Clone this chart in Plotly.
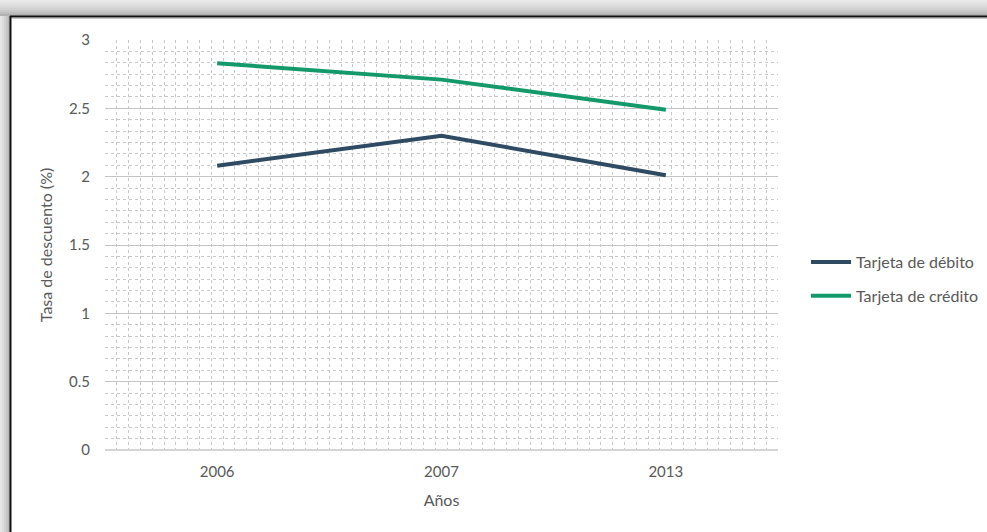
import plotly.graph_objects as go

years = ["2006", "2007", "2013"]
debito = [2.08, 2.30, 2.01]
credito = [2.83, 2.71, 2.49]
y_ticks = [0, 0.5, 1, 1.5, 2, 2.5, 3]
y_ticktext = ["0", "0.5", "1", "1.5", "2", "2.5", "3"]

W, H = 987, 532
L, R, T, B = 105, 209, 40, 82
PW, PH = W - L - R, H - T - B

def px2paper_x(px):
    return (px - L) / PW

def px2paper_y(py):
    return (H - B - py) / PH

xi = list(range(len(years)))
FONT = "Lato, Carlito, Calibri, sans-serif"
GRAY = "#595959"

fig = go.Figure()
fig.add_trace(go.Scatter(x=xi, y=debito, mode="lines", name="Tarjeta de débito",
                         line=dict(color="#2F4B64", width=4), legendgroup="a"))
fig.add_trace(go.Scatter(x=xi, y=credito, mode="lines", name="Tarjeta de crédito",
                         line=dict(color="#13996A", width=4), legendgroup="b"))

shapes = []
# shadow gradient (top and left)
top_cols = ["#e9e9e9", "#e4e4e4", "#dedede", "#d8d8d8", "#d1d1d1", "#c9c9c9", "#bebebe", "#b0b0b0"]
for i, c in enumerate(top_cols):
    y0 = i * 2
    shapes.append(dict(type="rect", xref="paper", yref="paper",
                       x0=px2paper_x(0), x1=px2paper_x(W), y0=px2paper_y(y0), y1=px2paper_y(y0 + 2),
                       fillcolor=c, line=dict(width=0), layer="below"))
left_cols = ["#e6e6e6", "#dddddd", "#d2d2d2", "#c5c5c5", "#b5b5b5"]
for i, c in enumerate(left_cols):
    x0 = i * 2
    shapes.append(dict(type="rect", xref="paper", yref="paper",
                       x0=px2paper_x(x0), x1=px2paper_x(x0 + 2), y0=px2paper_y(16), y1=px2paper_y(H),
                       fillcolor=c, line=dict(width=0), layer="below"))
# black frame
shapes.append(dict(type="line", xref="paper", yref="paper",
                   x0=px2paper_x(10), x1=px2paper_x(W), y0=px2paper_y(16.5), y1=px2paper_y(16.5),
                   line=dict(color="#111111", width=2)))
shapes.append(dict(type="line", xref="paper", yref="paper",
                   x0=px2paper_x(10.5), x1=px2paper_x(10.5), y0=px2paper_y(16), y1=px2paper_y(H),
                   line=dict(color="#111111", width=2)))
shapes.append(dict(type="line", xref="paper", yref="paper",
                   x0=px2paper_x(12), x1=px2paper_x(W), y0=px2paper_y(18.5), y1=px2paper_y(18.5),
                   line=dict(color="#c8c8c8", width=1)))

fig.update_layout(
    width=W, height=H,
    margin=dict(l=L, r=R, t=T, b=B, autoexpand=False),
    paper_bgcolor="white", plot_bgcolor="white",
    font=dict(family=FONT, color=GRAY, size=15),
    shapes=shapes,
    showlegend=True,
    legend=dict(x=px2paper_x(806), y=px2paper_y(279), xanchor="left", yanchor="middle",
                font=dict(size=16, color=GRAY), tracegroupgap=10,
                bgcolor="rgba(0,0,0,0)", itemwidth=40),
    xaxis=dict(range=[-0.5, 2.5], tickvals=xi, ticktext=years, showgrid=False,
               zeroline=False, showline=False, ticks="outside", ticklen=8, tickcolor="rgba(0,0,0,0)",
               tickfont=dict(size=15, color=GRAY),
               title=dict(text="Años", font=dict(size=16, color=GRAY), standoff=15),
               minor=dict(tick0=-0.5, dtick=1 / 19, showgrid=True, gridcolor="#c8c8c8",
                          griddash="dot", gridwidth=1)),
    yaxis=dict(range=[0, 3], tickvals=y_ticks, ticktext=y_ticktext, showgrid=True,
               gridcolor="#c4c4c4", gridwidth=1, zeroline=True, zerolinecolor="#d4d4d4",
               zerolinewidth=2, showline=False, ticks="", ticklabelstandoff=14,
               tickfont=dict(size=15, color=GRAY),
               title=dict(text="Tasa de descuento (%)", font=dict(size=16, color=GRAY), standoff=12),
               minor=dict(tick0=0, dtick=1 / 12, showgrid=True, gridcolor="#c8c8c8",
                          griddash="dot", gridwidth=1)),
)

fig.write_html("out.html")
